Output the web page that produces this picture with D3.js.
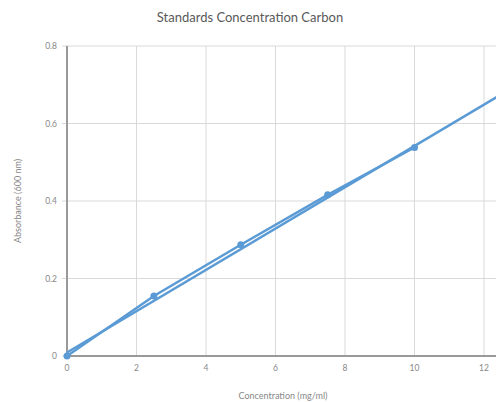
<!DOCTYPE html>
<html><head><meta charset="utf-8">
<script src="https://cdn.jsdelivr.net/npm/d3@7"></script>
<style>body{margin:0;background:#fff}svg{display:block}</style>
</head><body>
<script>
const concentrations = [0, 2.5, 5, 7.5, 10];
const absorbance = [0, 0.155, 0.287, 0.416, 0.538];
// linear trendline
const trendIntercept = 0.009;
const trendSlope = 0.0533;
const xTicks = [0, 2, 4, 6, 8, 10, 12];
const yTicks = [0, 0.2, 0.4, 0.6, 0.8];
const title = "Standards Concentration Carbon";
const xLabel = "Concentration (mg/ml)";
const yLabel = "Absorbance (600 nm)";

const W = 496, H = 402;
const svg = d3.select("body").append("svg").attr("width", W).attr("height", H);
const font = "Lato, 'Open Sans', sans-serif";
const xs = d3.scaleLinear().domain([0, 12]).range([67, 484]);
const ys = d3.scaleLinear().domain([0, 0.8]).range([356, 46]);
const xMax = xs.invert(W + 2);

// gridlines
const g = svg.append("g");
g.selectAll(".hg").data(yTicks).enter().append("line")
  .attr("x1", xs(0) - 5).attr("x2", W).attr("y1", d => ys(d)).attr("y2", d => ys(d))
  .attr("stroke", "#d9d9d9").attr("stroke-width", 1);
g.selectAll(".vg").data(xTicks.filter(d => d > 0)).enter().append("line")
  .attr("y1", ys(0.8)).attr("y2", ys(0)).attr("x1", d => xs(d)).attr("x2", d => xs(d))
  .attr("stroke", "#d9d9d9").attr("stroke-width", 1);

// axes lines
svg.append("line").attr("x1", xs(0)).attr("x2", xs(0)).attr("y1", ys(0.8)).attr("y2", ys(0) + 1)
  .attr("stroke", "#999").attr("stroke-width", 2);
svg.append("line").attr("x1", xs(0) - 1).attr("x2", W).attr("y1", ys(0)).attr("y2", ys(0))
  .attr("stroke", "#999").attr("stroke-width", 2);

// tick labels
svg.selectAll(".yl").data(yTicks).enter().append("text")
  .attr("x", xs(0) - 10).attr("y", d => ys(d) + 3)
  .attr("text-anchor", "end").attr("font-family", font).attr("font-size", 8.5).attr("fill", "#888")
  .text(d => d === 0 ? "0" : d3.format(".1f")(d));
svg.selectAll(".xl").data(xTicks).enter().append("text")
  .attr("x", d => xs(d)).attr("y", ys(0) + 15)
  .attr("text-anchor", "middle").attr("font-family", font).attr("font-size", 8.5).attr("fill", "#888")
  .text(d => d);

// trendline
svg.append("line")
  .attr("x1", xs(0)).attr("y1", ys(trendIntercept))
  .attr("x2", xs(xMax)).attr("y2", ys(trendIntercept + trendSlope * xMax))
  .attr("stroke", "#5b9bd5").attr("stroke-width", 2.5);

// data series
const pts = concentrations.map((c, i) => [c, absorbance[i]]);
svg.append("path").datum(pts)
  .attr("d", d3.line().x(d => xs(d[0])).y(d => ys(d[1])))
  .attr("fill", "none").attr("stroke", "#5b9bd5").attr("stroke-width", 2.5);
svg.selectAll(".pt").data(pts).enter().append("circle")
  .attr("cx", d => xs(d[0])).attr("cy", d => ys(d[1])).attr("r", 3.5)
  .attr("fill", "#5b9bd5");

// titles
svg.append("text").attr("x", 250).attr("y", 22).attr("text-anchor", "middle")
  .attr("font-family", font).attr("font-size", 13).attr("fill", "#595959").text(title);
svg.append("text").attr("x", 283).attr("y", 399).attr("text-anchor", "middle")
  .attr("font-family", font).attr("font-size", 9).attr("fill", "#888").text(xLabel);
svg.append("text").attr("transform", `translate(21,${ys(0.4)}) rotate(-90)`).attr("text-anchor", "middle")
  .attr("font-family", font).attr("font-size", 9).attr("fill", "#888").text(yLabel);
</script>
</body></html>
